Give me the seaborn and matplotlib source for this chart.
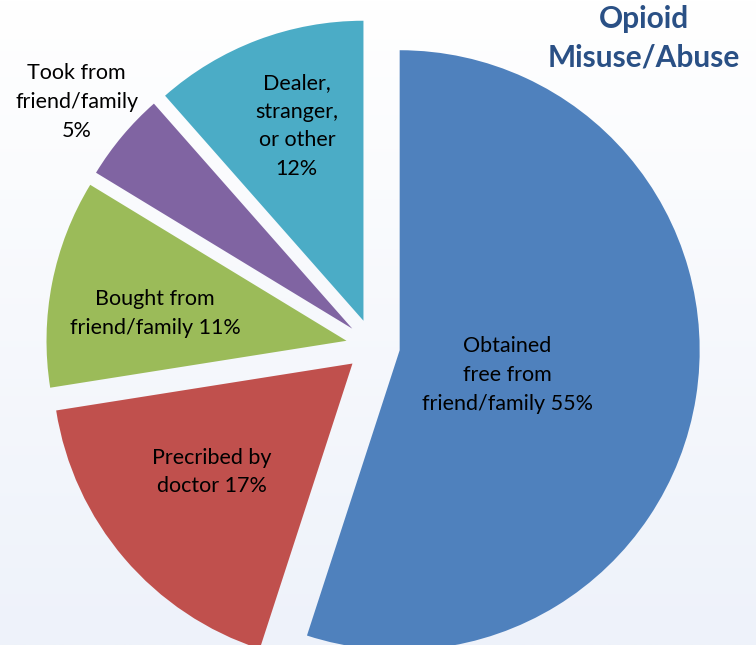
import numpy as np
import matplotlib
matplotlib.use('Agg')
import matplotlib.pyplot as plt
import seaborn as sns

labels = ['Obtained\nfree from\nfriend/family 55%',
          'Precribed by\ndoctor 17%',
          'Bought from\nfriend/family 11%',
          'Took from\nfriend/family\n5%',
          'Dealer,\nstranger,\nor other\n12%']
shares = [55.0, 17.5, 11.2, 4.8, 11.5]
colors = ['#4f81bd', '#c0504d', '#9bbb59', '#8064a2', '#4bacc6']
label_dist = [0.457, 0.681, 0.735, 1.279, 0.776]
label_turn = [-3.2, -2.4, 2.6, 0.5, -1.6]
title = 'Opioid\nMisuse/Abuse'

sns.set_theme(style='white')
plt.rcParams['font.family'] = ['Lato', 'DejaVu Sans']

fig = plt.figure(figsize=(7.56, 6.45), dpi=100)
ax = fig.add_axes([0, 0, 1, 1])

# pie centre sits at pixel (373, 346), radius 300 px
cx, cy, r = 373, 346, 300
x0, x1 = -cx / r, (756 - cx) / r
y0, y1 = -(645 - cy) / r, cy / r

# soft background gradient, white at top
grad = np.linspace(0, 1, 256).reshape(-1, 1)
bg = matplotlib.colors.LinearSegmentedColormap.from_list('bg', ['#ffffff', '#eef2fa'])
ax.imshow(grad, cmap=bg, extent=[x0, x1, y0, y1], aspect='auto', origin='upper', zorder=0)

wedges, _ = ax.pie(shares, colors=sns.color_palette(colors), startangle=90, counterclock=False,
                   explode=[0.09] * len(shares), radius=1, wedgeprops=dict(linewidth=0),
                   center=(0, 0), frame=True)
for w in wedges:
    w.set_zorder(2)

for w, lab, d, t in zip(wedges, labels, label_dist, label_turn):
    ang = np.deg2rad((w.theta1 + w.theta2) / 2 + t)
    ax.text(d * np.cos(ang), d * np.sin(ang), lab, ha='center', va='center',
            fontsize=15.5, color='black', linespacing=1.55, zorder=3)

ax.text((644 - cx) / r, (cy - 38) / r, title, ha='center', va='center', fontsize=21.5,
        fontweight='bold', color='#2a5085', linespacing=1.45, zorder=3)

ax.set_xlim(x0, x1)
ax.set_ylim(y0, y1)
ax.set_aspect('auto')
ax.axis('off')

fig.savefig('out.png', dpi=100)
